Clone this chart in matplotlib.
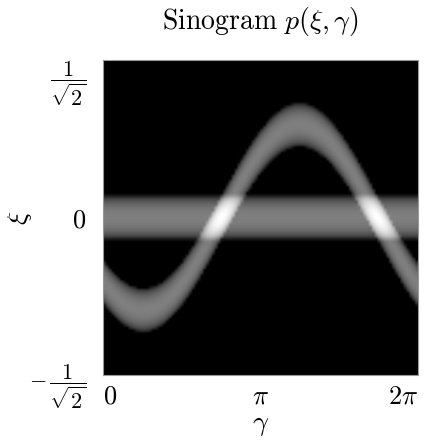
import numpy as np
import matplotlib
matplotlib.use("Agg")
import matplotlib.pyplot as plt

plt.rcParams['mathtext.fontset'] = 'cm'
plt.rcParams['font.family'] = ['DejaVu Serif']

# Phantom: two disks of equal density (offset from centre, angle of offset, radius)
disk_offsets = [0.0, 0.42]
disk_phases = [0.0, 1.25 * np.pi]
disk_radii = [0.10, 0.10]
disk_density = [1.0, 1.0]

xi_lim = 1 / np.sqrt(2)
n_xi, n_gamma = 110, 110
x_tick_pos = [0, np.pi, 2 * np.pi]
x_tick_labels = [r'$0$', r'$\pi$', r'$2\pi$']
y_tick_pos = [-xi_lim, 0, xi_lim]
y_tick_labels = [r'$-\,\dfrac{1}{\sqrt{2}}$', r'$0$', r'$\dfrac{1}{\sqrt{2}}$']

gamma = np.linspace(0, 2 * np.pi, n_gamma)
xi = np.linspace(-xi_lim, xi_lim, n_xi)
G, X = np.meshgrid(gamma, xi)
sino = np.zeros_like(G)
for c, ph, r, d in zip(disk_offsets, disk_phases, disk_radii, disk_density):
    dist = X - c * np.cos(G - ph)
    sino += d * 2 * np.sqrt(np.clip(r ** 2 - dist ** 2, 0, None))

fig = plt.figure(figsize=(4.26, 4.41), dpi=100)
ax = fig.add_axes([0.242, 0.150, 0.739, 0.714])
ax.imshow(sino, cmap='gray', origin='lower', aspect='auto',
          extent=[0, 2 * np.pi, -xi_lim, xi_lim], interpolation='bilinear',
          vmin=0, vmax=sino.max())
ax.set_xticks(x_tick_pos)
ax.set_xticklabels(x_tick_labels, fontsize=19)
ax.set_yticks(y_tick_pos)
ax.set_yticklabels(y_tick_labels, fontsize=16)
ax.get_yticklabels()[1].set_fontsize(19)
xl = ax.get_xticklabels()
xl[0].set_ha('left')
xl[2].set_ha('right')
yl = ax.get_yticklabels()
yl[2].set_va('top')
yl[0].set_va('center_baseline')
ax.tick_params(length=0)
ax.tick_params(axis='x', pad=6)
ax.tick_params(axis='y', pad=12)
for s in ax.spines.values():
    s.set_color('0.6')
    s.set_linewidth(0.8)
ax.set_xlabel(r'$\gamma$', fontsize=20, labelpad=2)
ax.set_ylabel(r'$\xi$', fontsize=20)
ax.yaxis.set_label_coords(-0.22, 0.5)
ax.set_title(r'$\mathrm{Sinogram}\ p(\xi,\gamma)$', fontsize=20, pad=22)
fig.savefig('out.png', dpi=100)
